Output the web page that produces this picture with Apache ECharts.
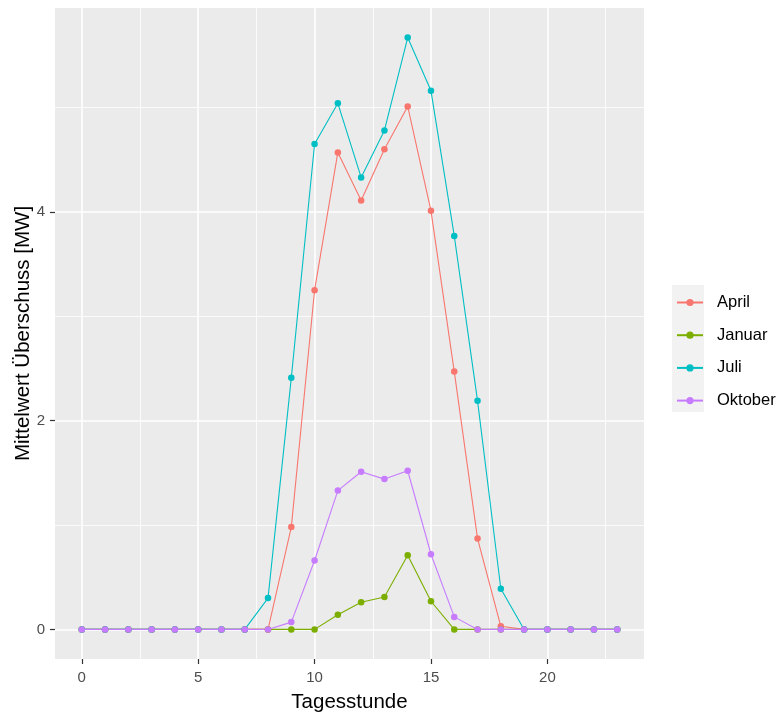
<!DOCTYPE html>
<html>
<head>
<meta charset="utf-8">
<script src="https://cdn.jsdelivr.net/npm/echarts@6/dist/echarts.min.js"></script>
<style>html,body{margin:0;padding:0;background:#fff}#c{width:779px;height:718px}</style>
</head>
<body>
<div id="c"></div>
<script>
const hours = [0,1,2,3,4,5,6,7,8,9,10,11,12,13,14,15,16,17,18,19,20,21,22,23];
const april   = [0,0,0,0,0,0,0,0,0,0.98,3.25,4.57,4.11,4.60,5.01,4.01,2.47,0.87,0.03,0,0,0,0,0];
const januar  = [0,0,0,0,0,0,0,0,0,0,0,0.14,0.26,0.31,0.71,0.27,0,0,0,0,0,0,0,0];
const juli    = [0,0,0,0,0,0,0,0,0.30,2.41,4.65,5.04,4.33,4.78,5.67,5.16,3.77,2.19,0.39,0,0,0,0,0];
const oktober = [0,0,0,0,0,0,0,0,0,0.07,0.66,1.33,1.51,1.44,1.52,0.72,0.12,0,0,0,0,0,0,0];
const seriesNames = ['April','Januar','Juli','Oktober'];
const seriesColors = ['#F8766D','#7CAE00','#00BFC4','#C77CFF'];
const xTicks = [0,5,10,15,20];
const xMinor = [2.5,7.5,12.5,17.5,22.5];
const yTicks = [0,2,4];
const yMinor = [1,3,5];

const seriesData = [april, januar, juli, oktober];
const font = 'Liberation Sans, Arial, sans-serif';

const chart = echarts.init(document.getElementById('c'), null, {renderer:'canvas'});
const dataSeries = seriesData.map((vals, i) => ({
  name: seriesNames[i],
  type: 'line',
  data: hours.map((h, j) => [h, vals[j]]),
  symbol: 'circle',
  symbolSize: 6.5,
  showSymbol: true,
  color: seriesColors[i],
  lineStyle: {width: 1.1, color: seriesColors[i]},
  itemStyle: {color: seriesColors[i]},
  emphasis: {disabled: true},
  animation: false,
  z: 3
}));

const gridLines = {
  type: 'line',
  data: [],
  silent: true,
  z: 1,
  animation: false,
  markLine: {
    silent: true,
    z: 1,
    symbol: 'none',
    label: {show: false},
    animation: false,
    data: [
      ...xMinor.map(v => ({xAxis: v, lineStyle: {color: '#fff', width: 0.8, type: 'solid'}})),
      ...yMinor.map(v => ({yAxis: v, lineStyle: {color: '#fff', width: 0.8, type: 'solid'}})),
      ...xTicks.map(v => ({xAxis: v, lineStyle: {color: '#fff', width: 1.6, type: 'solid'}})),
      ...yTicks.map(v => ({yAxis: v, lineStyle: {color: '#fff', width: 1.6, type: 'solid'}}))
    ]
  }
};

chart.setOption({
  animation: false,
  backgroundColor: '#fff',
  grid: {left: 55, right: 135, top: 8, bottom: 59, show: true, backgroundColor: '#EBEBEB', borderWidth: 0, outerBoundsMode: 'none', containLabel: false},
  xAxis: {
    type: 'value', min: -1.15, max: 24.15,
    name: 'Tagesstunde', nameLocation: 'middle', nameGap: 33,
    nameTextStyle: {fontFamily: font, fontSize: 20.5, color: '#000'},
    axisLine: {show: false, onZero: false},
    splitLine: {show: false},
    axisTick: {show: true, inside: false, length: 5, customValues: xTicks, lineStyle: {color: '#333333', width: 1.2, opacity: 1}},
    axisLabel: {customValues: xTicks, fontFamily: font, fontSize: 15, color: '#4D4D4D', margin: 11}
  },
  yAxis: {
    type: 'value', min: -0.2835, max: 5.9535,
    name: 'Mittelwert Überschuss [MW]', nameLocation: 'middle', nameGap: 21, nameRotate: 90,
    nameMoveOverlap: false,
    nameTextStyle: {fontFamily: font, fontSize: 20.5, color: '#000'},
    axisLine: {show: false, onZero: false},
    splitLine: {show: false},
    axisTick: {show: true, inside: false, length: 5, customValues: yTicks, lineStyle: {color: '#333333', width: 1.2, opacity: 1}},
    axisLabel: {customValues: yTicks, fontFamily: font, fontSize: 15, color: '#4D4D4D', margin: 10}
  },
  legend: {
    orient: 'vertical', left: 676, top: 294, padding: 0,
    itemWidth: 26, itemHeight: 9, itemGap: 15.7,
    data: seriesNames,
    textStyle: {fontFamily: font, fontSize: 16.5, color: '#000', lineHeight: 16, padding: [0,0,0,9]},
    selectedMode: false
  },
  graphic: [{
    type: 'rect', left: 672, top: 285, z: -1, silent: true,
    shape: {width: 32, height: 127}, style: {fill: '#F2F2F2'}
  }],
  series: [gridLines, ...dataSeries]
});
</script>
</body>
</html>
